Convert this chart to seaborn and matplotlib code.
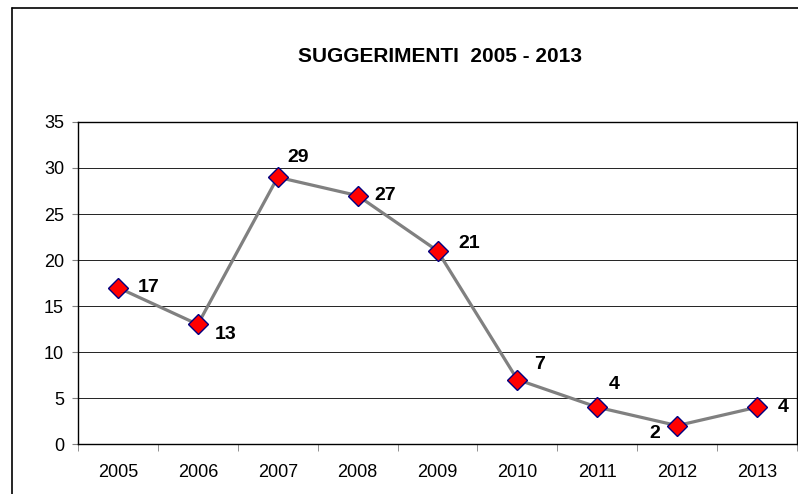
import numpy as np
import pandas as pd
import matplotlib
matplotlib.use("Agg")
import matplotlib.pyplot as plt
from matplotlib.lines import Line2D
import seaborn as sns

years = ["2005", "2006", "2007", "2008", "2009", "2010", "2011", "2012", "2013"]
values = [17, 13, 29, 27, 21, 7, 4, 2, 4]
# label offsets in points (dx, dy)
offsets = [(22, 0), (20, -7), (15, 14), (20, 0), (23, 5), (16, 11), (12, 16), (-16, -6), (19, 0)]

sns.set_style("white")
plt.rcParams["font.family"] = ["Liberation Sans", "DejaVu Sans"]
plt.rcParams["text.color"] = "black"
plt.rcParams["xtick.color"] = "black"
plt.rcParams["ytick.color"] = "black"

df = pd.DataFrame({"anno": years, "suggerimenti": values})

fig = plt.figure(figsize=(7.98, 4.94), dpi=100)
ax = fig.add_axes([78/798, 1-444/494, 719/798, 322/494])

sns.lineplot(data=df, x="anno", y="suggerimenti", ax=ax, color="#808080", linewidth=2.3,
             marker="D", markersize=10, markerfacecolor="#ff0000", markeredgecolor="#000080",
             markeredgewidth=1)

for i, (v, off) in enumerate(zip(values, offsets)):
    ax.annotate(str(v), (i, v), xytext=off, textcoords="offset points",
                ha="center", va="center", fontsize=14, fontweight="bold", color="black")

ax.set_xlim(-0.5, len(years) - 0.5)
ax.set_ylim(0, 35)
ax.set_yticks(range(0, 36, 5))
ax.set_xlabel("")
ax.set_ylabel("")
ax.yaxis.grid(True, color="#222222", linewidth=0.7)
ax.set_axisbelow(True)
for s in ax.spines.values():
    s.set_color("black")
    s.set_linewidth(1.0)
ax.set_xticks(np.arange(-0.5, len(years), 1), minor=True)
ax.tick_params(axis="x", which="major", length=0, labelsize=13, pad=14.5, labelcolor="black")
ax.tick_params(axis="x", which="minor", length=5, color="#808080", direction="out", bottom=True)
ax.tick_params(axis="y", length=4.5, labelsize=13, pad=5.5, direction="out", color="#808080",
               left=True, labelcolor="black")

fig.text(440/798, 1-57/494, "SUGGERIMENTI  2005 - 2013", ha="center", va="center",
         fontsize=15, fontweight="bold", color="black")

# outer chart border (left and top visible)
fig.add_artist(Line2D([12/798, 12/798], [0, 1-8/494], color="black", linewidth=1.2,
                      transform=fig.transFigure))
fig.add_artist(Line2D([12/798, 1], [1-8/494, 1-8/494], color="black", linewidth=1.2,
                      transform=fig.transFigure))

fig.savefig("out.png", dpi=100)
